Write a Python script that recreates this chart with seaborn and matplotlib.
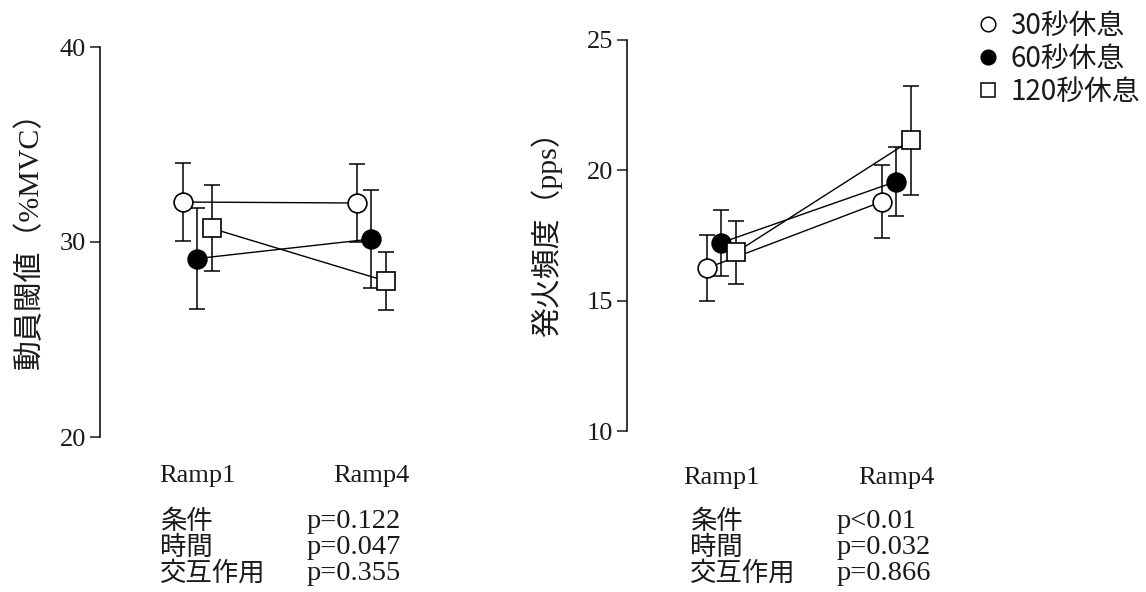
import numpy as np
import pandas as pd
import matplotlib
matplotlib.use("Agg")
import matplotlib.pyplot as plt
import seaborn as sns
from matplotlib.lines import Line2D

# ---------------- data ----------------
ramps = ["Ramp1", "Ramp4"]
conditions = ["30秒休息", "60秒休息", "120秒休息"]

# recruitment threshold (%MVC): mean and SD per condition, [Ramp1, Ramp4]
thr_30 = [32.05, 32.0]
thr_60 = [29.15, 30.15]
thr_120 = [30.7, 28.0]
thr_30_sd = [2.0, 2.0]
thr_60_sd = [2.6, 2.5]
thr_120_sd = [2.2, 1.5]

# firing rate (pps)
fr_30 = [16.25, 18.8]
fr_60 = [17.22, 19.57]
fr_120 = [16.85, 21.15]
fr_30_sd = [1.25, 1.4]
fr_60_sd = [1.27, 1.33]
fr_120_sd = [1.2, 2.08]

thr_ylabel = "動員閾値（%MVC）"
fr_ylabel = "発火頻度（pps）"
thr_yticks = [20, 30, 40]
fr_yticks = [10, 15, 20, 25]

stat_names = ["条件", "時間", "交互作用"]
thr_pvals = ["p=0.122", "p=0.047", "p=0.355"]
fr_pvals = ["p<0.01", "p=0.032", "p=0.866"]

# ---------------- style ----------------
sns.set_theme(style="white")
FAM = ["Liberation Serif", "Noto Sans CJK JP", "DejaVu Sans"]
plt.rcParams["font.family"] = FAM
INK = "#1a1a1a"
plt.rcParams["text.color"] = INK
plt.rcParams["axes.labelcolor"] = INK
plt.rcParams["xtick.color"] = INK
plt.rcParams["ytick.color"] = INK

marker_styles = {
    "30秒休息": dict(marker="o", mfc="white", ms=13.5),
    "60秒休息": dict(marker="o", mfc="black", ms=13.5),
    "120秒休息": dict(marker="s", mfc="white", ms=12.5),
}
offsets = {"30秒休息": -0.08, "60秒休息": 0.0, "120秒休息": 0.085}


def make_df(means, sds):
    rows = []
    for cond, m, s in zip(conditions, means, sds):
        for i, r in enumerate(ramps):
            rows.append(dict(cond=cond, ramp=r, xpos=i + offsets[cond], mean=m[i], sd=s[i]))
    return pd.DataFrame(rows)


df_thr = make_df([thr_30, thr_60, thr_120], [thr_30_sd, thr_60_sd, thr_120_sd])
df_fr = make_df([fr_30, fr_60, fr_120], [fr_30_sd, fr_60_sd, fr_120_sd])

W, H = 1146, 592
fig = plt.figure(figsize=(W / 100, H / 100), dpi=100)


def add_axes(l, r, t, b):
    return fig.add_axes([l / W, 1 - b / H, (r - l) / W, (b - t) / H])


ax1 = add_axes(100, 440, 47, 437)
ax2 = add_axes(627, 967, 40, 431)


def draw(ax, df, yticks, ylabel, xlim, pad, label_x, label_y):
    for cond in conditions:
        sub = df[df.cond == cond]
        ax.errorbar(sub.xpos, sub["mean"], yerr=sub.sd, fmt="none", ecolor="black",
                    elinewidth=1.1, capsize=6, capthick=1.1, zorder=2, clip_on=False)
        st = marker_styles[cond]
        sns.lineplot(data=sub, x="xpos", y="mean", ax=ax, color="black", lw=1.0,
                     marker=st["marker"], markersize=st["ms"], markerfacecolor=st["mfc"],
                     markeredgecolor="black", markeredgewidth=1.2, estimator=None,
                     sort=False, legend=False, zorder=3, clip_on=False)
    ax.set_ylim(yticks[0], yticks[-1])
    ax.set_yticks(yticks)
    ax.set_xlim(*xlim)
    ax.set_xticks([0, 1])
    ax.set_xticklabels(ramps, fontsize=19)
    ax.tick_params(axis="x", length=0, pad=pad)
    ax.tick_params(axis="y", length=7, width=1.1, direction="out", labelsize=19, pad=3, left=True)
    for sp in ["top", "right", "bottom"]:
        ax.spines[sp].set_visible(False)
    ax.spines["left"].set_color("black")
    ax.spines["left"].set_linewidth(1.1)
    ax.set_xlabel("")
    ax.set_ylabel(ylabel, fontsize=21.5)
    ax.yaxis.set_label_coords(label_x, label_y)
    ax.patch.set_alpha(0)


draw(ax1, df_thr, thr_yticks, thr_ylabel, (-0.557, 1.397), 20, -0.165, 0.523)
draw(ax2, df_fr, fr_yticks, fr_ylabel, (-0.537, 1.406), 26, -0.192, 0.522)

# statistics text
for x_name, x_p, pvals in [(160, 307, thr_pvals), (690, 837, fr_pvals)]:
    for k, (nm, pv) in enumerate(zip(stat_names, pvals)):
        y = 522 + 25.5 * k
        fig.text(x_name / W, 1 - y / H, nm, fontsize=19, va="center", ha="left", family=FAM)
        fig.text(x_p / W, 1 - y / H, pv, fontsize=20.5, va="center", ha="left", family=FAM)

# legend
handles = [Line2D([], [], ls="none", marker=marker_styles[c]["marker"], mfc=marker_styles[c]["mfc"],
                  mec="black", mew=1.1, ms=10.5 if marker_styles[c]["marker"] == "o" else 10)
           for c in conditions]
fig.legend(handles, conditions, loc="upper left", bbox_to_anchor=(977 / W, 1 - 11 / H),
           frameon=False, handletextpad=0.4, labelspacing=0.1, handlelength=0.8,
           borderaxespad=0, borderpad=0,
           prop=dict(family=["Noto Sans CJK JP", "DejaVu Sans"], size=20))

fig.savefig("out.png", dpi=100, facecolor="white")
